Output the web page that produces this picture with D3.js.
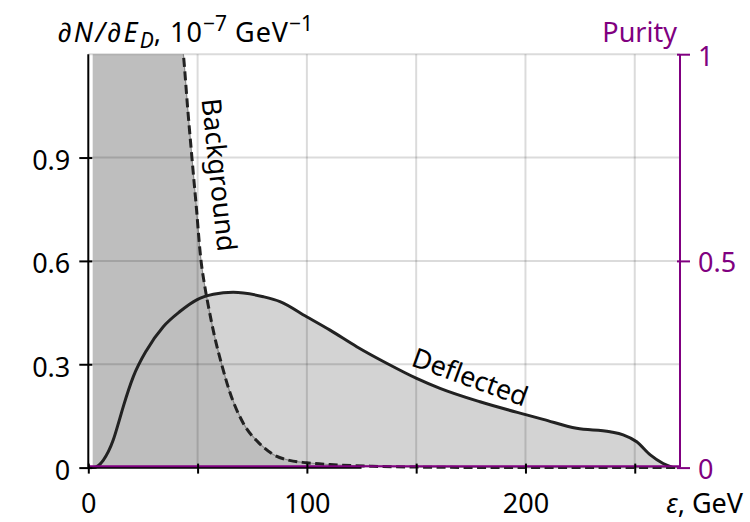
<!DOCTYPE html>
<html><head><meta charset="utf-8">
<script src="https://cdn.jsdelivr.net/npm/d3@7"></script>
<style>
body{margin:0;background:#fff}
text{font-family:"Noto Sans",sans-serif;font-size:27px}
</style>
</head><body>
<svg id="c" width="750" height="522"></svg>
<script>
// ---- data ----
const deflectedE = [0, 2.3, 6.9, 11.4, 14.2, 16, 20.6, 26.7, 34.3, 41.9, 49.6, 57.2, 66.3, 80.1, 87.7, 99.9, 110.6, 122.8, 136.5, 150.2, 160.9, 179.2, 200.5, 208.1, 223.4, 238.7, 244.7, 250.9, 257.1, 263, 267.6];
const deflectedN = [0, 0, 0.022, 0.08, 0.138, 0.177, 0.264, 0.341, 0.409, 0.453, 0.487, 0.503, 0.509, 0.496, 0.482, 0.438, 0.399, 0.351, 0.303, 0.259, 0.23, 0.191, 0.153, 0.14, 0.114, 0.104, 0.095, 0.075, 0.037, 0.012, 0];
const backgroundE = [2, 10, 20, 30, 35, 40, 43.5, 45.5, 47.4, 49.5, 51.4, 53.2, 55.2, 57.8, 61, 64.8, 70.9, 78.5, 84.6, 92, 99.9, 110.6, 130, 160, 200, 240, 270.7];
const backgroundN = [6, 4.5, 3, 2.0, 1.65, 1.37, 1.2, 1.04, 0.9, 0.75, 0.61, 0.53, 0.46, 0.38, 0.3, 0.218, 0.129, 0.069, 0.038, 0.021, 0.014, 0.009, 0.004, 0.001, 0, 0, 0];
const purityE = [0, 270.7];
const purityP = [0.003, 0.003];
const xTicks = [0, 50, 100, 150, 200, 250];
const xTickLabels = ["0", "", "100", "", "200", ""];
const yTicks = [0, 0.3, 0.6, 0.9];
const yTickLabels = ["0", "0.3", "0.6", "0.9"];
const yGrid = [0.3, 0.6, 0.9, 1.2];
const xGrid = [50, 100, 150, 200, 250];
const purityTicks = [0, 0.5, 1];
const purityTickLabels = ["0", "0.5", "1"];
const xDomain = [0, 270.7];
const yDomain = [0, 1.2];
const pDomain = [0, 1];
const axisSolidEnd = 125;

// ---- layout ----
const L = 88.3, R = 680, T = 54.2, B = 467.6;
const purple = "#800080";
const svg = d3.select("#c");
const x = d3.scaleLinear().domain(xDomain).range([L, R]);
const y = d3.scaleLinear().domain(yDomain).range([B, T]);
const p = d3.scaleLinear().domain(pDomain).range([B, T]);

svg.append("clipPath").attr("id", "clip").append("rect")
  .attr("x", L).attr("y", T).attr("width", R - L).attr("height", B - T + 3);
svg.append("clipPath").attr("id", "clipf").append("rect")
  .attr("x", L).attr("y", T).attr("width", R - L).attr("height", B - T);

const defl = deflectedE.map((e, i) => [e, deflectedN[i]]);
const bg = backgroundE.map((e, i) => [e, backgroundN[i]]);
const pur = purityE.map((e, i) => [e, purityP[i]]);

const gf = svg.append("g").attr("clip-path", "url(#clipf)");
const g = svg.append("g").attr("clip-path", "url(#clip)");
const areaD = d3.area().x(d => x(d[0])).y0(y(0)).y1(d => y(d[1])).curve(d3.curveMonotoneX);
const lineD = d3.line().x(d => x(d[0])).y(d => y(d[1])).curve(d3.curveMonotoneX);
const areaB = d3.area().x(d => x(d[0])).y0(y(0)).y1(d => y(d[1])).curve(d3.curveMonotoneX);
const lineB = d3.line().x(d => x(d[0])).y(d => y(d[1])).curve(d3.curveMonotoneX);

gf.append("path").attr("d", areaD(defl)).attr("fill", "#d3d3d3");
gf.append("path").attr("d", areaB(bg)).attr("fill", "#bebebe");

// grid
svg.append("g").selectAll("line").data(xGrid).join("line")
  .attr("x1", d => x(d)).attr("x2", d => x(d)).attr("y1", y(0)).attr("y2", y(1.2))
  .attr("stroke", "rgba(0,0,0,0.14)").attr("stroke-width", 2);
svg.append("g").selectAll("line").data(yGrid).join("line")
  .attr("x1", x(0)).attr("x2", x(xDomain[1])).attr("y1", d => y(d)).attr("y2", d => y(d))
  .attr("stroke", "rgba(0,0,0,0.14)").attr("stroke-width", 2);

// curves
g.append("path").attr("d", lineB(bg)).attr("fill", "none").attr("stroke", "#8a8a8a").attr("stroke-width", 1.2);
g.append("path").attr("d", lineB(bg)).attr("fill", "none").attr("stroke", "#222")
  .attr("stroke-width", 3).attr("stroke-dasharray", "9,4.5");
g.append("path").attr("d", lineD(defl)).attr("fill", "none").attr("stroke", "#222").attr("stroke-width", 3);

// bottom solid axis part
svg.append("line").attr("x1", x(0)).attr("x2", x(axisSolidEnd)).attr("y1", y(0)).attr("y2", y(0))
  .attr("stroke", "#000").attr("stroke-width", 2.4);

// purity line
svg.append("path").attr("d", d3.line().x(d => x(d[0])).y(d => p(d[1]))(pur))
  .attr("fill", "none").attr("stroke", purple).attr("stroke-width", 2);

// left axis
const ax = d3.axisLeft(y).tickValues(yTicks).tickSize(9).tickFormat((d, i) => yTickLabels[i]);
const gl = svg.append("g").attr("transform", `translate(${L},0)`).call(ax);
gl.select(".domain").attr("d", `M0,${B}V${T}`).attr("stroke", "#000").attr("stroke-width", 2);
gl.selectAll(".tick line").attr("x1", 4).attr("stroke", "#000").attr("stroke-width", 2);
gl.selectAll(".tick text").attr("font-size", 27).attr("font-family", "Noto Sans").attr("fill", "#000")
  .attr("x", -18).attr("dy", 12);

// bottom axis ticks
const bx = d3.axisBottom(x).tickValues(xTicks).tickSize(6).tickFormat((d, i) => xTickLabels[i]);
const gb = svg.append("g").attr("transform", `translate(0,${B})`).call(bx);
gb.select(".domain").remove();
gb.selectAll(".tick line").attr("y1", -4).attr("stroke", "#000").attr("stroke-width", 2);
gb.selectAll(".tick text").attr("font-size", 27).attr("font-family", "Noto Sans").attr("fill", "#000")
  .attr("y", 45).attr("dy", 0);

// right axis
const ar = d3.axisRight(p).tickValues(purityTicks).tickSize(10).tickFormat((d, i) => purityTickLabels[i]);
const gr = svg.append("g").attr("transform", `translate(${R},0)`).call(ar);
gr.select(".domain").attr("d", `M0,${B}V${T}`).attr("stroke", purple).attr("stroke-width", 2);
gr.selectAll(".tick line").attr("x1", -3).attr("stroke", purple).attr("stroke-width", 2);
gr.selectAll(".tick text").attr("font-size", 27).attr("font-family", "Noto Sans").attr("fill", purple)
  .attr("x", 18).attr("dy", 11);

// titles
const t = svg.append("text").attr("x", 58).attr("y", 42).attr("fill", "#000").attr("font-size", 28);
t.append("tspan").attr("font-style", "italic").attr("letter-spacing", 2.5).text("∂N/∂E");
t.append("tspan").attr("font-style", "italic").attr("font-size", 21).attr("dy", 6).text("D");
t.append("tspan").attr("dy", -6).attr("letter-spacing", 1).text(", 10");
t.append("tspan").attr("font-size", 21).attr("dy", -11).text("−7");
t.append("tspan").attr("dy", 11).attr("letter-spacing", 1).text(" GeV");
t.append("tspan").attr("font-size", 21).attr("dy", -11).text("−1");

svg.append("text").attr("x", 677).attr("y", 42).attr("text-anchor", "end").attr("fill", purple).text("Purity");

const xl = svg.append("text").attr("x", 743).attr("y", 513).attr("text-anchor", "end").attr("fill", "#000");
xl.append("tspan").attr("font-style", "italic").text("ε");
xl.append("tspan").text(", GeV");

// curve labels
svg.append("text").attr("transform", "translate(219,175) rotate(84)")
  .attr("text-anchor", "middle").attr("dy", "0.35em").attr("fill", "#000").text("Background");
svg.append("text").attr("transform", "translate(470,377) rotate(20)")
  .attr("text-anchor", "middle").attr("dy", "0.35em").attr("fill", "#000").text("Deflected");
</script>
</body></html>
